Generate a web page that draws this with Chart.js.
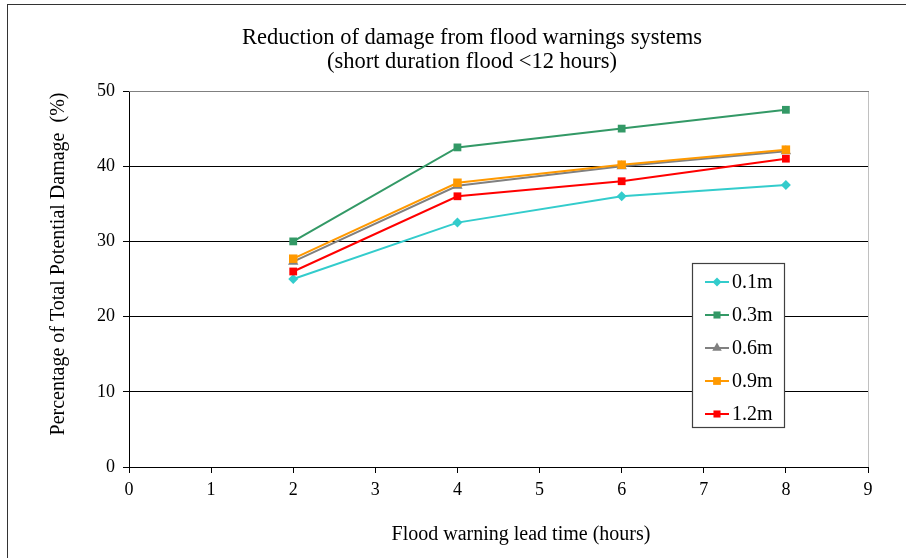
<!DOCTYPE html>
<html>
<head>
<meta charset="utf-8">
<script src="https://cdn.jsdelivr.net/npm/chart.js@4/dist/chart.umd.min.js"></script>
<style>
  html, body { margin: 0; padding: 0; background: #fff; }
  #wrap { width: 906px; height: 558px; position: relative; }
</style>
</head>
<body>
<div id="wrap"><canvas id="c" width="906" height="558"></canvas></div>
<script>
// Lead times (hours) and damage reduction (%) for each flood depth
const leadTimes = [2, 4, 6, 8];
const depth01 = [25.0, 32.5, 36.0, 37.5];
const depth03 = [30.0, 42.5, 45.0, 47.5];
const depth06 = [27.3, 37.4, 40.0, 42.0];
const depth09 = [27.7, 37.8, 40.2, 42.2];
const depth12 = [26.0, 36.0, 38.0, 41.0];

const seriesNames = ['0.1m', '0.3m', '0.6m', '0.9m', '1.2m'];
const seriesValues = [depth01, depth03, depth06, depth09, depth12];
const seriesColors = ['#33CCCC', '#339966', '#808080', '#FF9900', '#FF0000'];
const seriesMarkers = ['rectRot', 'rect', 'triangle', 'rect', 'rect'];
const markerRadius = [5, 5.5, 6, 6, 5.5];

const titleLines = ['Reduction of damage from flood warnings systems', '(short duration flood <12 hours)'];
const xTitle = 'Flood warning lead time (hours)';
const yTitle = 'Percentage of Total Potential Damage  (%)';

const FONT = '"Liberation Serif", "Times New Roman", serif';

const datasets = seriesNames.map((name, i) => ({
  label: name,
  data: leadTimes.map((t, k) => ({ x: t, y: seriesValues[i][k] })),
  borderColor: seriesColors[i],
  backgroundColor: seriesColors[i],
  borderWidth: 2,
  pointStyle: seriesMarkers[i],
  pointRadius: markerRadius[i],
  pointBorderWidth: 0,
  pointHoverRadius: markerRadius[i],
  tension: 0,
  order: seriesNames.length - 1 - i
}));

// Outer frame, plot frame, titles and the boxed legend
const decorations = {
  id: 'decorations',
  beforeDraw(chart) {
    const ctx = chart.ctx;
    ctx.save();
    ctx.fillStyle = '#fff';
    ctx.fillRect(0, 0, chart.width, chart.height);
    ctx.strokeStyle = '#333';
    ctx.lineWidth = 1;
    ctx.strokeRect(7.5, 4.5, chart.width + 10, chart.height + 10);
    ctx.restore();
  },
  beforeDatasetsDraw(chart) {
    const ctx = chart.ctx;
    const a = chart.chartArea;
    ctx.save();
    ctx.lineWidth = 1;
    ctx.strokeStyle = '#c0c0c0';
    ctx.beginPath();
    ctx.moveTo(Math.round(a.right) + 0.5, a.top);
    ctx.lineTo(Math.round(a.right) + 0.5, a.bottom);
    ctx.stroke();
    ctx.strokeStyle = '#808080';
    ctx.beginPath();
    ctx.moveTo(a.left, Math.round(a.top) + 0.5);
    ctx.lineTo(a.right + 1, Math.round(a.top) + 0.5);
    ctx.stroke();
    ctx.restore();
  },
  afterDraw(chart) {
    const ctx = chart.ctx;
    ctx.save();
    ctx.fillStyle = '#000';
    ctx.textAlign = 'center';
    ctx.textBaseline = 'middle';
    ctx.font = '22.5px ' + FONT;
    ctx.fillText(titleLines[0], 472, 38);
    ctx.fillText(titleLines[1], 472, 62);

    ctx.font = '20px ' + FONT;
    ctx.fillText(xTitle, 521, 535);

    ctx.save();
    ctx.translate(59, 264);
    ctx.rotate(-Math.PI / 2);
    ctx.fillText(yTitle, 0, 0);
    ctx.restore();

    // legend box
    const bx = 692.5, by = 263.5, bw = 92, bh = 164;
    ctx.fillStyle = '#fff';
    ctx.fillRect(bx, by, bw, bh);
    ctx.strokeStyle = '#404040';
    ctx.lineWidth = 1.2;
    ctx.strokeRect(bx, by, bw, bh);
    ctx.font = '20px ' + FONT;
    ctx.textAlign = 'left';
    seriesNames.forEach((name, i) => {
      const y = 282 + i * 33;
      ctx.strokeStyle = seriesColors[i];
      ctx.lineWidth = 2;
      ctx.beginPath();
      ctx.moveTo(705, y);
      ctx.lineTo(729, y);
      ctx.stroke();
      ctx.fillStyle = seriesColors[i];
      Chart.helpers.drawPoint(ctx, {
        pointStyle: seriesMarkers[i],
        radius: markerRadius[i] - 0.5,
        rotation: 0,
        borderWidth: 0
      }, 717, y);
      ctx.fillStyle = '#000';
      ctx.fillText(name, 732, y + 1);
    });
    ctx.restore();
  }
};

new Chart(document.getElementById('c'), {
  type: 'line',
  data: { datasets },
  options: {
    responsive: false,
    animation: false,
    devicePixelRatio: 1,
    layout: { padding: { top: 91, right: 38, left: 0, bottom: 0 } },
    plugins: {
      legend: { display: false },
      title: { display: false },
      tooltip: { enabled: false }
    },
    scales: {
      x: {
        type: 'linear',
        min: 0,
        max: 9,
        afterFit(scale) { scale.height = 91; },
        ticks: {
          stepSize: 1,
          color: '#000',
          padding: 6,
          maxRotation: 0,
          font: { family: FONT, size: 18 }
        },
        grid: {
          drawOnChartArea: false,
          drawTicks: true,
          tickLength: 6,
          tickColor: '#000',
          tickWidth: 1
        },
        border: { color: '#000', width: 1 }
      },
      y: {
        min: 0,
        max: 50,
        afterFit(scale) { scale.width = 129; },
        ticks: {
          stepSize: 10,
          color: '#000',
          padding: 8,
          font: { family: FONT, size: 18 }
        },
        grid: {
          color: (c) => (c.tick && c.tick.value === 50 ? '#808080' : '#000'),
          lineWidth: 1,
          tickLength: 6,
          tickColor: '#000'
        },
        border: { color: '#000', width: 1 }
      }
    }
  },
  plugins: [decorations]
});
</script>
</body>
</html>
